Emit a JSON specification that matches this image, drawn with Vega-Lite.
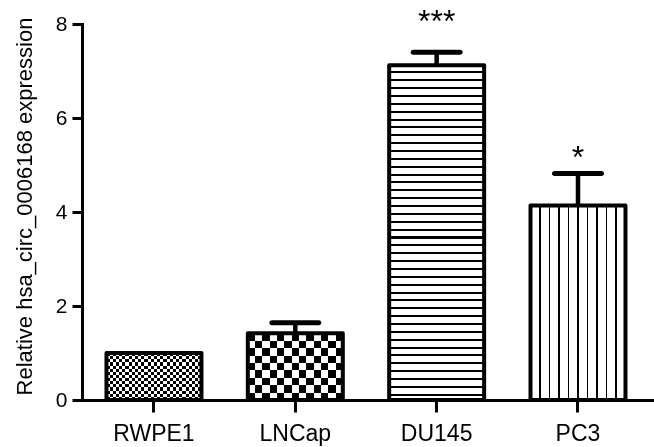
{
  "$schema": "https://vega.github.io/schema/vega-lite/v6.json",
  "width": 572,
  "height": 376,
  "autosize": {"type": "none"},
  "padding": {"left": 82, "top": 24, "right": 0, "bottom": 47},
  "background": "white",
  "config": {"view": {"stroke": null}, "font": "Liberation Sans"},
  "data": {"values": [
    {"cell": "RWPE1", "mean": 1.0, "upper": null, "sig": ""},
    {"cell": "LNCap", "mean": 1.42, "upper": 1.645, "sig": ""},
    {"cell": "DU145", "mean": 7.12, "upper": 7.4, "sig": "***"},
    {"cell": "PC3", "mean": 4.14, "upper": 4.82, "sig": "*"}
  ]},
  "encoding": {
    "x": {
      "field": "cell", "type": "nominal",
      "sort": ["RWPE1", "LNCap", "DU145", "PC3"],
      "scale": {"paddingInner": 0.328, "paddingOuter": 0.1875, "align": 0.462},
      "axis": {"title": null, "labelAngle": 0, "domainColor": "#000", "domainWidth": 3, "domainCap": "square",
        "tickColor": "#000", "tickWidth": 3, "tickSize": 12, "labelFont": "Liberation Sans", "labelFontSize": 23,
        "labelColor": "#000", "labelPadding": 10}
    },
    "y": {
      "field": "mean", "type": "quantitative",
      "title": "Relative hsa_circ_0006168 expression",
      "scale": {"domain": [0, 8]},
      "axis": {"values": [0, 2, 4, 6, 8], "grid": false, "domainColor": "#000", "domainWidth": 3, "domainCap": "square",
        "tickColor": "#000", "tickWidth": 3, "tickSize": 10, "labelFont": "Liberation Sans", "labelFontSize": 21,
        "labelColor": "#000", "labelPadding": 5, "titleFont": "Liberation Sans", "titleFontSize": 22,
        "titleFontWeight": "normal", "titleColor": "#000", "titleAngle": -90, "titleX": -51, "titleY": 182,
        "titleAlign": "center", "titleBaseline": "alphabetic"}
    }
  },
  "layer": [
    {
      "transform": [{"filter": "datum.cell === 'RWPE1'"}],
      "mark": {"type": "bar", "opacity": 1, "strokeWidth": 0, "fill": {"gradient": "linear", "x1": 0, "y1": 0, "x2": 1, "y2": 0, "stops": [
        {"offset": 0, "color": "#000"}, {"offset": 0.0333, "color": "#000"},
        {"offset": 0.0333, "color": "#fff"}, {"offset": 0.0667, "color": "#fff"},
        {"offset": 0.0667, "color": "#000"}, {"offset": 0.1, "color": "#000"},
        {"offset": 0.1, "color": "#fff"}, {"offset": 0.1333, "color": "#fff"},
        {"offset": 0.1333, "color": "#000"}, {"offset": 0.1667, "color": "#000"},
        {"offset": 0.1667, "color": "#fff"}, {"offset": 0.2, "color": "#fff"},
        {"offset": 0.2, "color": "#000"}, {"offset": 0.2333, "color": "#000"},
        {"offset": 0.2333, "color": "#fff"}, {"offset": 0.2667, "color": "#fff"},
        {"offset": 0.2667, "color": "#000"}, {"offset": 0.3, "color": "#000"},
        {"offset": 0.3, "color": "#fff"}, {"offset": 0.3333, "color": "#fff"},
        {"offset": 0.3333, "color": "#000"}, {"offset": 0.3667, "color": "#000"},
        {"offset": 0.3667, "color": "#fff"}, {"offset": 0.4, "color": "#fff"},
        {"offset": 0.4, "color": "#000"}, {"offset": 0.4333, "color": "#000"},
        {"offset": 0.4333, "color": "#fff"}, {"offset": 0.4667, "color": "#fff"},
        {"offset": 0.4667, "color": "#000"}, {"offset": 0.5, "color": "#000"},
        {"offset": 0.5, "color": "#fff"}, {"offset": 0.5333, "color": "#fff"},
        {"offset": 0.5333, "color": "#000"}, {"offset": 0.5667, "color": "#000"},
        {"offset": 0.5667, "color": "#fff"}, {"offset": 0.6, "color": "#fff"},
        {"offset": 0.6, "color": "#000"}, {"offset": 0.6333, "color": "#000"},
        {"offset": 0.6333, "color": "#fff"}, {"offset": 0.6667, "color": "#fff"},
        {"offset": 0.6667, "color": "#000"}, {"offset": 0.7, "color": "#000"},
        {"offset": 0.7, "color": "#fff"}, {"offset": 0.7333, "color": "#fff"},
        {"offset": 0.7333, "color": "#000"}, {"offset": 0.7667, "color": "#000"},
        {"offset": 0.7667, "color": "#fff"}, {"offset": 0.8, "color": "#fff"},
        {"offset": 0.8, "color": "#000"}, {"offset": 0.8333, "color": "#000"},
        {"offset": 0.8333, "color": "#fff"}, {"offset": 0.8667, "color": "#fff"},
        {"offset": 0.8667, "color": "#000"}, {"offset": 0.9, "color": "#000"},
        {"offset": 0.9, "color": "#fff"}, {"offset": 0.9333, "color": "#fff"},
        {"offset": 0.9333, "color": "#000"}, {"offset": 0.9667, "color": "#000"},
        {"offset": 0.9667, "color": "#fff"}, {"offset": 1, "color": "#fff"}
      ]}}
    },
    {
      "transform": [{"filter": "datum.cell === 'RWPE1'"}],
      "mark": {"type": "bar", "opacity": 1, "strokeWidth": 0, "blend": "difference", "fill": {"gradient": "linear", "x1": 0, "y1": 0, "x2": 0, "y2": 1, "stops": [
        {"offset": 0, "color": "#000"}, {"offset": 0.0667, "color": "#000"},
        {"offset": 0.0667, "color": "#fff"}, {"offset": 0.1333, "color": "#fff"},
        {"offset": 0.1333, "color": "#000"}, {"offset": 0.2, "color": "#000"},
        {"offset": 0.2, "color": "#fff"}, {"offset": 0.2667, "color": "#fff"},
        {"offset": 0.2667, "color": "#000"}, {"offset": 0.3333, "color": "#000"},
        {"offset": 0.3333, "color": "#fff"}, {"offset": 0.4, "color": "#fff"},
        {"offset": 0.4, "color": "#000"}, {"offset": 0.4667, "color": "#000"},
        {"offset": 0.4667, "color": "#fff"}, {"offset": 0.5333, "color": "#fff"},
        {"offset": 0.5333, "color": "#000"}, {"offset": 0.6, "color": "#000"},
        {"offset": 0.6, "color": "#fff"}, {"offset": 0.6667, "color": "#fff"},
        {"offset": 0.6667, "color": "#000"}, {"offset": 0.7333, "color": "#000"},
        {"offset": 0.7333, "color": "#fff"}, {"offset": 0.8, "color": "#fff"},
        {"offset": 0.8, "color": "#000"}, {"offset": 0.8667, "color": "#000"},
        {"offset": 0.8667, "color": "#fff"}, {"offset": 0.9333, "color": "#fff"},
        {"offset": 0.9333, "color": "#000"}, {"offset": 1, "color": "#000"}
      ]}}
    },
    {
      "transform": [{"filter": "datum.cell === 'LNCap'"}],
      "mark": {"type": "bar", "opacity": 1, "strokeWidth": 0, "fill": {"gradient": "linear", "x1": 0, "y1": 0, "x2": 1, "y2": 0, "stops": [
        {"offset": 0, "color": "#000"}, {"offset": 0.0769, "color": "#000"},
        {"offset": 0.0769, "color": "#fff"}, {"offset": 0.1538, "color": "#fff"},
        {"offset": 0.1538, "color": "#000"}, {"offset": 0.2308, "color": "#000"},
        {"offset": 0.2308, "color": "#fff"}, {"offset": 0.3077, "color": "#fff"},
        {"offset": 0.3077, "color": "#000"}, {"offset": 0.3846, "color": "#000"},
        {"offset": 0.3846, "color": "#fff"}, {"offset": 0.4615, "color": "#fff"},
        {"offset": 0.4615, "color": "#000"}, {"offset": 0.5385, "color": "#000"},
        {"offset": 0.5385, "color": "#fff"}, {"offset": 0.6154, "color": "#fff"},
        {"offset": 0.6154, "color": "#000"}, {"offset": 0.6923, "color": "#000"},
        {"offset": 0.6923, "color": "#fff"}, {"offset": 0.7692, "color": "#fff"},
        {"offset": 0.7692, "color": "#000"}, {"offset": 0.8462, "color": "#000"},
        {"offset": 0.8462, "color": "#fff"}, {"offset": 0.9231, "color": "#fff"},
        {"offset": 0.9231, "color": "#000"}, {"offset": 1, "color": "#000"}
      ]}}
    },
    {
      "transform": [{"filter": "datum.cell === 'LNCap'"}],
      "mark": {"type": "bar", "opacity": 1, "strokeWidth": 0, "blend": "difference", "fill": {"gradient": "linear", "x1": 0, "y1": 0, "x2": 0, "y2": 1, "stops": [
        {"offset": 0, "color": "#000"}, {"offset": 0.1111, "color": "#000"},
        {"offset": 0.1111, "color": "#fff"}, {"offset": 0.2222, "color": "#fff"},
        {"offset": 0.2222, "color": "#000"}, {"offset": 0.3333, "color": "#000"},
        {"offset": 0.3333, "color": "#fff"}, {"offset": 0.4444, "color": "#fff"},
        {"offset": 0.4444, "color": "#000"}, {"offset": 0.5556, "color": "#000"},
        {"offset": 0.5556, "color": "#fff"}, {"offset": 0.6667, "color": "#fff"},
        {"offset": 0.6667, "color": "#000"}, {"offset": 0.7778, "color": "#000"},
        {"offset": 0.7778, "color": "#fff"}, {"offset": 0.8889, "color": "#fff"},
        {"offset": 0.8889, "color": "#000"}, {"offset": 1, "color": "#000"}
      ]}}
    },
    {
      "transform": [{"filter": "datum.cell === 'DU145'"}],
      "mark": {"type": "bar", "opacity": 1, "strokeWidth": 0, "fill": {"gradient": "linear", "x1": 0, "y1": 0, "x2": 0, "y2": 1, "stops": [
        {"offset": 0, "color": "#fff"},
        {"offset": 0.0180, "color": "#fff"}, {"offset": 0.0180, "color": "#000"}, {"offset": 0.0240, "color": "#000"}, {"offset": 0.0240, "color": "#fff"},
        {"offset": 0.0415, "color": "#fff"}, {"offset": 0.0415, "color": "#000"}, {"offset": 0.0475, "color": "#000"}, {"offset": 0.0475, "color": "#fff"},
        {"offset": 0.0650, "color": "#fff"}, {"offset": 0.0650, "color": "#000"}, {"offset": 0.0710, "color": "#000"}, {"offset": 0.0710, "color": "#fff"},
        {"offset": 0.0885, "color": "#fff"}, {"offset": 0.0885, "color": "#000"}, {"offset": 0.0945, "color": "#000"}, {"offset": 0.0945, "color": "#fff"},
        {"offset": 0.1120, "color": "#fff"}, {"offset": 0.1120, "color": "#000"}, {"offset": 0.1180, "color": "#000"}, {"offset": 0.1180, "color": "#fff"},
        {"offset": 0.1354, "color": "#fff"}, {"offset": 0.1354, "color": "#000"}, {"offset": 0.1414, "color": "#000"}, {"offset": 0.1414, "color": "#fff"},
        {"offset": 0.1589, "color": "#fff"}, {"offset": 0.1589, "color": "#000"}, {"offset": 0.1649, "color": "#000"}, {"offset": 0.1649, "color": "#fff"},
        {"offset": 0.1824, "color": "#fff"}, {"offset": 0.1824, "color": "#000"}, {"offset": 0.1884, "color": "#000"}, {"offset": 0.1884, "color": "#fff"},
        {"offset": 0.2059, "color": "#fff"}, {"offset": 0.2059, "color": "#000"}, {"offset": 0.2119, "color": "#000"}, {"offset": 0.2119, "color": "#fff"},
        {"offset": 0.2294, "color": "#fff"}, {"offset": 0.2294, "color": "#000"}, {"offset": 0.2354, "color": "#000"}, {"offset": 0.2354, "color": "#fff"},
        {"offset": 0.2529, "color": "#fff"}, {"offset": 0.2529, "color": "#000"}, {"offset": 0.2589, "color": "#000"}, {"offset": 0.2589, "color": "#fff"},
        {"offset": 0.2764, "color": "#fff"}, {"offset": 0.2764, "color": "#000"}, {"offset": 0.2824, "color": "#000"}, {"offset": 0.2824, "color": "#fff"},
        {"offset": 0.2999, "color": "#fff"}, {"offset": 0.2999, "color": "#000"}, {"offset": 0.3059, "color": "#000"}, {"offset": 0.3059, "color": "#fff"},
        {"offset": 0.3234, "color": "#fff"}, {"offset": 0.3234, "color": "#000"}, {"offset": 0.3294, "color": "#000"}, {"offset": 0.3294, "color": "#fff"},
        {"offset": 0.3469, "color": "#fff"}, {"offset": 0.3469, "color": "#000"}, {"offset": 0.3529, "color": "#000"}, {"offset": 0.3529, "color": "#fff"},
        {"offset": 0.3704, "color": "#fff"}, {"offset": 0.3704, "color": "#000"}, {"offset": 0.3764, "color": "#000"}, {"offset": 0.3764, "color": "#fff"},
        {"offset": 0.3939, "color": "#fff"}, {"offset": 0.3939, "color": "#000"}, {"offset": 0.3999, "color": "#000"}, {"offset": 0.3999, "color": "#fff"},
        {"offset": 0.4174, "color": "#fff"}, {"offset": 0.4174, "color": "#000"}, {"offset": 0.4234, "color": "#000"}, {"offset": 0.4234, "color": "#fff"},
        {"offset": 0.4409, "color": "#fff"}, {"offset": 0.4409, "color": "#000"}, {"offset": 0.4469, "color": "#000"}, {"offset": 0.4469, "color": "#fff"},
        {"offset": 0.4644, "color": "#fff"}, {"offset": 0.4644, "color": "#000"}, {"offset": 0.4704, "color": "#000"}, {"offset": 0.4704, "color": "#fff"},
        {"offset": 0.4879, "color": "#fff"}, {"offset": 0.4879, "color": "#000"}, {"offset": 0.4939, "color": "#000"}, {"offset": 0.4939, "color": "#fff"},
        {"offset": 0.5114, "color": "#fff"}, {"offset": 0.5114, "color": "#000"}, {"offset": 0.5174, "color": "#000"}, {"offset": 0.5174, "color": "#fff"},
        {"offset": 0.5348, "color": "#fff"}, {"offset": 0.5348, "color": "#000"}, {"offset": 0.5408, "color": "#000"}, {"offset": 0.5408, "color": "#fff"},
        {"offset": 0.5583, "color": "#fff"}, {"offset": 0.5583, "color": "#000"}, {"offset": 0.5643, "color": "#000"}, {"offset": 0.5643, "color": "#fff"},
        {"offset": 0.5818, "color": "#fff"}, {"offset": 0.5818, "color": "#000"}, {"offset": 0.5878, "color": "#000"}, {"offset": 0.5878, "color": "#fff"},
        {"offset": 0.6053, "color": "#fff"}, {"offset": 0.6053, "color": "#000"}, {"offset": 0.6113, "color": "#000"}, {"offset": 0.6113, "color": "#fff"},
        {"offset": 0.6288, "color": "#fff"}, {"offset": 0.6288, "color": "#000"}, {"offset": 0.6348, "color": "#000"}, {"offset": 0.6348, "color": "#fff"},
        {"offset": 0.6523, "color": "#fff"}, {"offset": 0.6523, "color": "#000"}, {"offset": 0.6583, "color": "#000"}, {"offset": 0.6583, "color": "#fff"},
        {"offset": 0.6758, "color": "#fff"}, {"offset": 0.6758, "color": "#000"}, {"offset": 0.6818, "color": "#000"}, {"offset": 0.6818, "color": "#fff"},
        {"offset": 0.6993, "color": "#fff"}, {"offset": 0.6993, "color": "#000"}, {"offset": 0.7053, "color": "#000"}, {"offset": 0.7053, "color": "#fff"},
        {"offset": 0.7228, "color": "#fff"}, {"offset": 0.7228, "color": "#000"}, {"offset": 0.7288, "color": "#000"}, {"offset": 0.7288, "color": "#fff"},
        {"offset": 0.7463, "color": "#fff"}, {"offset": 0.7463, "color": "#000"}, {"offset": 0.7523, "color": "#000"}, {"offset": 0.7523, "color": "#fff"},
        {"offset": 0.7698, "color": "#fff"}, {"offset": 0.7698, "color": "#000"}, {"offset": 0.7758, "color": "#000"}, {"offset": 0.7758, "color": "#fff"},
        {"offset": 0.7933, "color": "#fff"}, {"offset": 0.7933, "color": "#000"}, {"offset": 0.7993, "color": "#000"}, {"offset": 0.7993, "color": "#fff"},
        {"offset": 0.8168, "color": "#fff"}, {"offset": 0.8168, "color": "#000"}, {"offset": 0.8228, "color": "#000"}, {"offset": 0.8228, "color": "#fff"},
        {"offset": 0.8403, "color": "#fff"}, {"offset": 0.8403, "color": "#000"}, {"offset": 0.8463, "color": "#000"}, {"offset": 0.8463, "color": "#fff"},
        {"offset": 0.8638, "color": "#fff"}, {"offset": 0.8638, "color": "#000"}, {"offset": 0.8698, "color": "#000"}, {"offset": 0.8698, "color": "#fff"},
        {"offset": 0.8873, "color": "#fff"}, {"offset": 0.8873, "color": "#000"}, {"offset": 0.8933, "color": "#000"}, {"offset": 0.8933, "color": "#fff"},
        {"offset": 0.9107, "color": "#fff"}, {"offset": 0.9107, "color": "#000"}, {"offset": 0.9167, "color": "#000"}, {"offset": 0.9167, "color": "#fff"},
        {"offset": 0.9342, "color": "#fff"}, {"offset": 0.9342, "color": "#000"}, {"offset": 0.9402, "color": "#000"}, {"offset": 0.9402, "color": "#fff"},
        {"offset": 0.9578, "color": "#fff"}, {"offset": 0.9578, "color": "#000"}, {"offset": 0.9638, "color": "#000"}, {"offset": 0.9638, "color": "#fff"},
        {"offset": 0.9812, "color": "#fff"}, {"offset": 0.9812, "color": "#000"}, {"offset": 0.9872, "color": "#000"}, {"offset": 0.9872, "color": "#fff"},
        {"offset": 1, "color": "#fff"}
      ]}}
    },
    {
      "transform": [{"filter": "datum.cell === 'PC3'"}],
      "mark": {"type": "bar", "opacity": 1, "strokeWidth": 0, "fill": {"gradient": "linear", "x1": 0, "y1": 0, "x2": 1, "y2": 0, "stops": [
        {"offset": 0, "color": "#fff"},
        {"offset": 0.092, "color": "#fff"}, {"offset": 0.092, "color": "#000"}, {"offset": 0.108, "color": "#000"}, {"offset": 0.108, "color": "#fff"},
        {"offset": 0.192, "color": "#fff"}, {"offset": 0.192, "color": "#000"}, {"offset": 0.208, "color": "#000"}, {"offset": 0.208, "color": "#fff"},
        {"offset": 0.292, "color": "#fff"}, {"offset": 0.292, "color": "#000"}, {"offset": 0.308, "color": "#000"}, {"offset": 0.308, "color": "#fff"},
        {"offset": 0.392, "color": "#fff"}, {"offset": 0.392, "color": "#000"}, {"offset": 0.408, "color": "#000"}, {"offset": 0.408, "color": "#fff"},
        {"offset": 0.492, "color": "#fff"}, {"offset": 0.492, "color": "#000"}, {"offset": 0.508, "color": "#000"}, {"offset": 0.508, "color": "#fff"},
        {"offset": 0.592, "color": "#fff"}, {"offset": 0.592, "color": "#000"}, {"offset": 0.608, "color": "#000"}, {"offset": 0.608, "color": "#fff"},
        {"offset": 0.692, "color": "#fff"}, {"offset": 0.692, "color": "#000"}, {"offset": 0.708, "color": "#000"}, {"offset": 0.708, "color": "#fff"},
        {"offset": 0.792, "color": "#fff"}, {"offset": 0.792, "color": "#000"}, {"offset": 0.808, "color": "#000"}, {"offset": 0.808, "color": "#fff"},
        {"offset": 0.892, "color": "#fff"}, {"offset": 0.892, "color": "#000"}, {"offset": 0.908, "color": "#000"}, {"offset": 0.908, "color": "#fff"},
        {"offset": 1, "color": "#fff"}
      ]}}
    },
    {
      "mark": {"type": "bar", "opacity": 1, "fill": "#fff", "fillOpacity": 0, "stroke": "#000", "strokeWidth": 4, "strokeJoin": "round"}
    },
    {
      "transform": [{"filter": "datum.upper != null"}],
      "mark": {"type": "rule", "color": "#000", "strokeWidth": 4.5, "opacity": 1},
      "encoding": {"y2": {"field": "upper"}}
    },
    {
      "transform": [{"filter": "datum.upper != null"}],
      "mark": {"type": "tick", "orient": "horizontal", "color": "#000", "size": 52, "thickness": 5, "cornerRadius": 2.5, "opacity": 1},
      "encoding": {"y": {"field": "upper", "type": "quantitative", "title": "Relative hsa_circ_0006168 expression"}}
    },
    {
      "transform": [{"filter": "datum.cell === 'DU145'"}],
      "mark": {"type": "text", "font": "Liberation Sans", "fontSize": 32, "baseline": "alphabetic", "dy": -20, "color": "#000"},
      "encoding": {"y": {"field": "upper", "type": "quantitative", "title": "Relative hsa_circ_0006168 expression"}, "text": {"field": "sig"}}
    },
    {
      "transform": [{"filter": "datum.cell === 'PC3'"}],
      "mark": {"type": "text", "font": "Liberation Sans", "fontSize": 32, "baseline": "alphabetic", "dy": -5, "color": "#000"},
      "encoding": {"y": {"field": "upper", "type": "quantitative", "title": "Relative hsa_circ_0006168 expression"}, "text": {"field": "sig"}}
    }
  ]
}
